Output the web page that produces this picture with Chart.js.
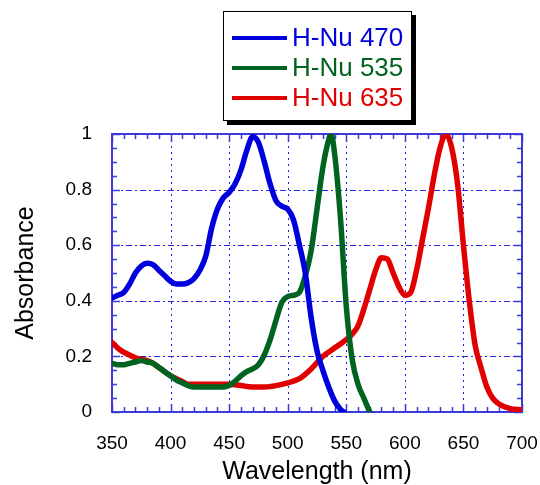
<!DOCTYPE html>
<html>
<head>
<meta charset="utf-8">
<script src="https://cdn.jsdelivr.net/npm/chart.js@4"></script>
<style>
  html, body { margin: 0; padding: 0; background: #fff; }
  #wrap { position: relative; width: 540px; height: 485px; }
  #legend {
    position: absolute; left: 223px; top: 11px; width: 187px; height: 108px;
    border: 1px solid #000; box-shadow: 4px 4px 0 #000; background: #fff;
    font-family: "Liberation Sans", Arial, sans-serif; font-size: 26px;
  }
  .row { position: absolute; left: 8px; height: 30px; line-height: 30px; white-space: nowrap; }
  .row span.sw { display: inline-block; width: 55px; height: 4px; vertical-align: middle; margin-right: 5px; position: relative; top: -1px; }
</style>
</head>
<body>
<div id="wrap">
  <canvas id="c" width="540" height="485"></canvas>
  <div id="legend"></div>
</div>
<script>
const seriesNames = ['H-Nu 470', 'H-Nu 535', 'H-Nu 635'];
const seriesColors = ['#0000dc', '#006420', '#e10000'];

const blueX = [350, 355, 360, 365, 370, 375, 380, 385, 390, 395, 400, 405, 410, 415, 420, 425, 430, 435, 440, 445, 450, 455, 460, 465, 470, 475, 480, 485, 490, 495, 500, 505, 510, 515, 520, 525, 530, 535, 540, 545, 548];
const blueY = [0.41, 0.42, 0.43, 0.46, 0.50, 0.525, 0.535, 0.53, 0.51, 0.49, 0.47, 0.46, 0.46, 0.465, 0.48, 0.51, 0.56, 0.66, 0.73, 0.77, 0.79, 0.82, 0.87, 0.94, 0.99, 0.97, 0.90, 0.82, 0.76, 0.74, 0.73, 0.69, 0.60, 0.50, 0.34, 0.22, 0.15, 0.09, 0.04, 0.01, 0];

const greenX = [350, 355, 360, 365, 370, 375, 380, 385, 390, 395, 400, 405, 410, 415, 420, 430, 440, 445, 450, 455, 460, 465, 470, 475, 480, 485, 490, 495, 500, 505, 510, 515, 520, 525, 530, 535, 537, 540, 545, 550, 555, 560, 565, 570];
const greenY = [0.175, 0.17, 0.17, 0.175, 0.18, 0.185, 0.18, 0.175, 0.16, 0.145, 0.13, 0.115, 0.105, 0.095, 0.09, 0.09, 0.09, 0.09, 0.095, 0.11, 0.13, 0.145, 0.155, 0.17, 0.205, 0.26, 0.33, 0.395, 0.415, 0.42, 0.43, 0.49, 0.58, 0.73, 0.88, 0.98, 1.0, 0.93, 0.70, 0.38, 0.19, 0.10, 0.05, 0];

const redX = [350, 355, 360, 365, 370, 375, 380, 385, 390, 395, 400, 405, 410, 415, 420, 430, 440, 450, 460, 470, 480, 490, 500, 510, 520, 530, 540, 550, 555, 560, 565, 570, 575, 580, 585, 590, 595, 600, 605, 610, 615, 620, 625, 630, 635, 640, 645, 650, 655, 660, 665, 670, 675, 680, 690, 700];
const redY = [0.25, 0.23, 0.215, 0.205, 0.195, 0.19, 0.185, 0.175, 0.16, 0.145, 0.13, 0.12, 0.11, 0.10, 0.10, 0.10, 0.10, 0.10, 0.095, 0.09, 0.09, 0.095, 0.105, 0.12, 0.155, 0.20, 0.23, 0.26, 0.28, 0.31, 0.37, 0.44, 0.51, 0.555, 0.55, 0.50, 0.45, 0.42, 0.43, 0.51, 0.62, 0.73, 0.85, 0.95, 1.0, 0.95, 0.82, 0.60, 0.40, 0.24, 0.16, 0.09, 0.05, 0.03, 0.012, 0.008];

const xTickStep = 50, xMinorStep = 10;
const yTickStep = 0.2, yMinorStep = 0.05;

const pts = (xs, ys) => xs.map((x, i) => ({ x, y: ys[i] }));

// legend as html
const legendEl = document.getElementById('legend');
seriesNames.forEach((name, i) => {
    const row = document.createElement('div');
    row.className = 'row';
    row.style.top = (10 + i * 30) + 'px';
    row.style.color = seriesColors[i];
    row.innerHTML = `<span class="sw" style="background:${seriesColors[i]}"></span>${name}`;
    legendEl.appendChild(row);
});

const AXIS_BLUE = '#3a3ad8';

// frame, dotted grid and inward ticks
const framePlugin = {
    id: 'frame',
    beforeDatasetsDraw(chart) {
        const { ctx, chartArea: a, scales: { x, y } } = chart;
        ctx.save();
        ctx.strokeStyle = '#2323e0';
        ctx.lineWidth = 1;
        // vertical grid
        ctx.setLineDash([2, 4]);
        for (let v = x.min + xTickStep; v < x.max; v += xTickStep) {
            const px = Math.round(x.getPixelForValue(v)) + 0.5;
            ctx.beginPath(); ctx.moveTo(px, a.top); ctx.lineTo(px, a.bottom); ctx.stroke();
        }
        // horizontal grid, dash-dot
        ctx.setLineDash([6, 3, 2, 3]);
        for (let v = y.min + yTickStep; v < y.max - 1e-6; v += yTickStep) {
            const py = Math.round(y.getPixelForValue(v)) + 0.5;
            ctx.beginPath(); ctx.moveTo(a.left, py); ctx.lineTo(a.right, py); ctx.stroke();
        }
        ctx.setLineDash([]);
        ctx.strokeStyle = AXIS_BLUE;
        ctx.lineWidth = 1.5;
        // minor ticks
        for (let v = x.min; v <= x.max + 1e-6; v += xMinorStep) {
            const px = Math.round(x.getPixelForValue(v)) + 0.5;
            const len = (Math.round(v) % xTickStep === 0) ? 8 : 5;
            ctx.beginPath();
            ctx.moveTo(px, a.bottom); ctx.lineTo(px, a.bottom - len);
            ctx.moveTo(px, a.top); ctx.lineTo(px, a.top + len);
            ctx.stroke();
        }
        for (let i = 0; i <= Math.round((y.max - y.min) / yMinorStep); i++) {
            const v = y.min + i * yMinorStep;
            const py = Math.round(y.getPixelForValue(v)) + 0.5;
            const len = (i % 4 === 0) ? 8 : 5;
            ctx.beginPath();
            ctx.moveTo(a.left, py); ctx.lineTo(a.left + len, py);
            ctx.moveTo(a.right, py); ctx.lineTo(a.right - len, py);
            ctx.stroke();
        }
        ctx.lineWidth = 2;
        ctx.strokeRect(a.left, a.top, a.right - a.left, a.bottom - a.top);
        ctx.restore();
    }
};

const font = { family: '"Liberation Sans", Arial, sans-serif' };

new Chart(document.getElementById('c'), {
    type: 'line',
    data: {
        datasets: [
            { label: seriesNames[0], data: pts(blueX, blueY), borderColor: seriesColors[0] },
            { label: seriesNames[1], data: pts(greenX, greenY), borderColor: seriesColors[1] },
            { label: seriesNames[2], data: pts(redX, redY), borderColor: seriesColors[2] }
        ]
    },
    options: {
        responsive: false,
        animation: false,
        layout: { padding: { top: 134, right: 18, left: 0, bottom: 0 } },
        elements: {
            point: { radius: 0 },
            line: { borderWidth: 5.5, cubicInterpolationMode: 'monotone', borderCapStyle: 'round', borderJoinStyle: 'round' }
        },
        plugins: { legend: { display: false }, tooltip: { enabled: false } },
        scales: {
            x: {
                type: 'linear', min: 350, max: 700,
                grid: { display: false }, border: { display: false },
                ticks: { stepSize: xTickStep, color: '#000', padding: 12, font: { ...font, size: 19 }, maxRotation: 0 },
                title: { display: true, text: 'Wavelength (nm)', color: '#000', font: { ...font, size: 25, lineHeight: 1 }, padding: { top: 0, bottom: 0 } },
                afterFit: s => { s.height = 73; s.paddingLeft = 0; s.paddingRight = 0; }
            },
            y: {
                min: 0, max: 1,
                grid: { display: false }, border: { display: false },
                ticks: { stepSize: yTickStep, color: '#000', padding: 12, font: { ...font, size: 19 },
                    callback: v => String(Number(v.toFixed(2))) },
                title: { display: true, text: 'Absorbance', color: '#000', font: { ...font, size: 25, lineHeight: 1 }, padding: { top: 14, bottom: 0 } },
                afterFit: s => { s.width = 112; s.paddingTop = 0; s.paddingBottom = 0; }
            }
        }
    },
    plugins: [framePlugin]
});
</script>
</body>
</html>
